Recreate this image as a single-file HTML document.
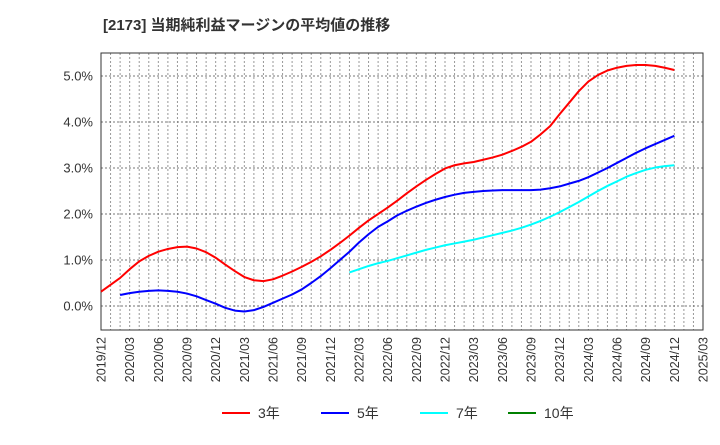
<!DOCTYPE html>
<html><head><meta charset="utf-8"><style>
body{margin:0;background:#fff;font-family:"Liberation Sans","Noto Sans CJK JP",sans-serif;}
</style></head><body>
<svg id="chart" width="720" height="440" xmlns="http://www.w3.org/2000/svg" font-family="Liberation Sans, Noto Sans CJK JP, sans-serif">
<text x="103" y="30" font-size="15" font-weight="bold" fill="#333">[2173]  当期純利益マージンの平均値の推移</text>
<g id="grid"></g><g id="axes"></g><g id="series"></g><g id="legend"></g>
</svg>
<script>
const xTickLabels=["2019/12","2020/03","2020/06","2020/09","2020/12","2021/03","2021/06","2021/09","2021/12","2022/03","2022/06","2022/09","2022/12","2023/03","2023/06","2023/09","2023/12","2024/03","2024/06","2024/09","2024/12","2025/03"];
const yTicks=[0,1,2,3,4,5];
const yTickLabels=["0.0%","1.0%","2.0%","3.0%","4.0%","5.0%"];
const series3Start=0;
const series3=[0.31,0.46,0.61,0.80,0.97,1.09,1.18,1.24,1.28,1.29,1.25,1.17,1.05,0.90,0.76,0.63,0.56,0.54,0.58,0.66,0.75,0.85,0.96,1.08,1.22,1.37,1.53,1.70,1.86,2.00,2.14,2.29,2.45,2.60,2.74,2.87,2.99,3.06,3.10,3.13,3.18,3.23,3.29,3.37,3.46,3.57,3.73,3.91,4.17,4.42,4.67,4.88,5.02,5.12,5.18,5.22,5.24,5.24,5.22,5.18,5.13];
const series5Start=2;
const series5=[0.24,0.28,0.31,0.33,0.34,0.33,0.31,0.27,0.21,0.13,0.05,-0.04,-0.10,-0.12,-0.09,-0.02,0.07,0.16,0.25,0.36,0.50,0.65,0.82,1.00,1.18,1.38,1.56,1.72,1.84,1.97,2.07,2.16,2.24,2.31,2.37,2.42,2.46,2.48,2.50,2.51,2.52,2.52,2.52,2.52,2.53,2.56,2.60,2.66,2.72,2.80,2.90,3.00,3.11,3.22,3.33,3.43,3.52,3.61,3.70];
const series7Start=26;
const series7=[0.73,0.80,0.87,0.93,0.98,1.04,1.10,1.16,1.22,1.27,1.32,1.36,1.40,1.44,1.49,1.54,1.59,1.64,1.70,1.77,1.85,1.94,2.04,2.15,2.26,2.38,2.50,2.61,2.71,2.81,2.89,2.96,3.01,3.04,3.06];
const series10=[];
const NS="http://www.w3.org/2000/svg";
const L=101,R=703,T=53,B=330,months=63;
const xs=i=>L+(R-L)*i/months;
const ys=v=>306-46*v;
function mk(tag,attrs,parent){const e=document.createElementNS(NS,tag);for(const k in attrs)e.setAttribute(k,attrs[k]);parent.appendChild(e);return e;}
const grid=document.getElementById('grid'),axes=document.getElementById('axes'),ser=document.getElementById('series'),leg=document.getElementById('legend');
for(let i=1;i<months;i++){const l=mk('line',{x1:xs(i),x2:xs(i),y1:T,y2:B,stroke:'#999','stroke-dasharray':'2,2','stroke-width':1},grid);

}
yTicks.forEach((v,k)=>{const l=mk('line',{x1:L,x2:R,y1:ys(v),y2:ys(v),stroke:'#777','stroke-dasharray':'2,2','stroke-width':1},grid);


const t=mk('text',{x:L-8,y:ys(v)+4.5,'text-anchor':'end','font-size':13,fill:'#333'},axes);t.textContent=yTickLabels[k];

});
const fr=mk('rect',{x:L,y:T,width:R-L,height:B-T,fill:'none',stroke:'#333','stroke-width':1},axes);


xTickLabels.forEach((s,k)=>{const x=xs(k*3);const t=mk('text',{transform:`translate(${x+4.5},337) rotate(-90)`,'text-anchor':'end','font-size':12.5,fill:'#333'},axes);t.textContent=s;

});
function draw(arr,start,color,name){if(!arr.length)return;const d=arr.map((v,i)=>(i?'L':'M')+xs(start+i).toFixed(2)+' '+ys(v).toFixed(2)).join(' ');
const p=mk('path',{d:d,fill:'none',stroke:color,'stroke-width':2,'stroke-linejoin':'round'},ser);

}
draw(series3,series3Start,'#ff0000','line-3yr');
draw(series5,series5Start,'#0000ff','line-5yr');
draw(series7,series7Start,'#00ffff','line-7yr');
draw(series10,0,'#008000','line-10yr');
[['3年','#ff0000',222],['5年','#0000ff',321],['7年','#00ffff',420],['10年','#008000',508]].forEach(([lab,c,x])=>{
const g=mk('g',{},leg);


mk('line',{x1:x,x2:x+28,y1:413,y2:413,stroke:c,'stroke-width':2},g);
const t=mk('text',{x:x+36,y:418,'font-size':14,fill:'#333'},g);t.textContent=lab;});
</script>
</body></html>
